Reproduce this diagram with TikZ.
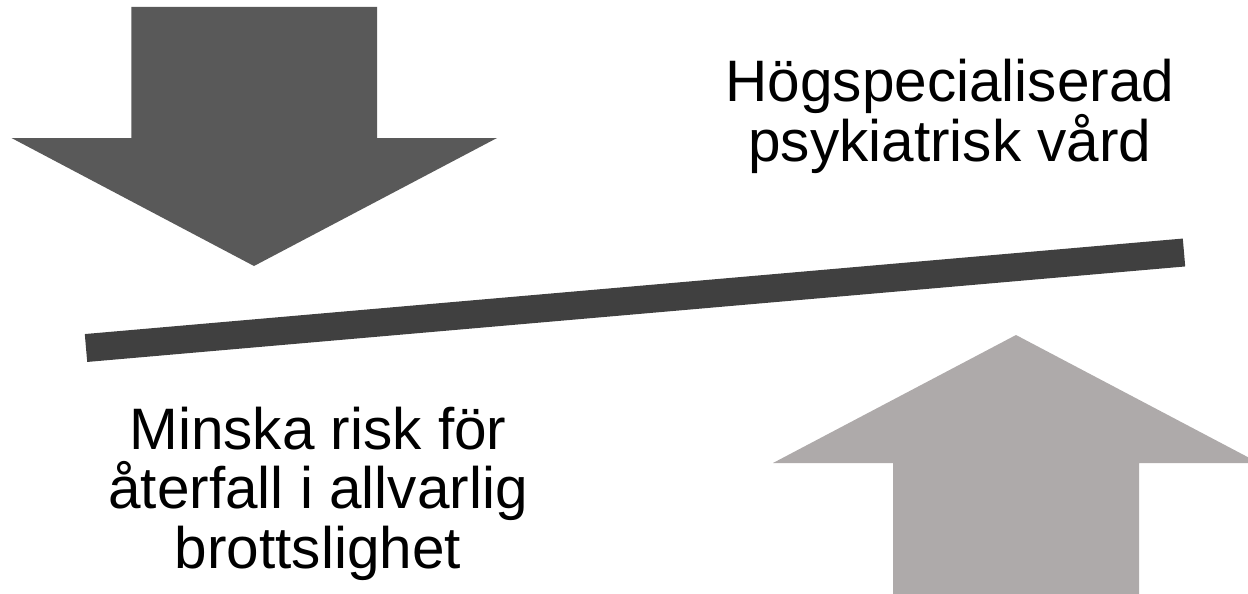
\documentclass[tikz,border=0pt]{standalone}
\usepackage{fontspec}
\setmainfont{Liberation Sans}
\definecolor{arrowdark}{HTML}{595959}
\definecolor{arrowlight}{HTML}{AEAAAA}
\definecolor{beamgray}{HTML}{404040}
\begin{document}
\begin{tikzpicture}[x=1pt,y=-1pt,
  bigarrow/.style={draw=none},
  label/.style={align=center,inner sep=0pt,text=black,
    font=\fontsize{58.5}{59.5}\selectfont},
  beam/.style={draw=beamgray,line width=28pt,line cap=butt}]
  \useasboundingbox (0,0) rectangle (1248,594);
  \clip (0,0) rectangle (1248,594);

  % block arrow pointing down
  \fill[bigarrow,arrowdark] (131.3,7) -- (377,7) -- (377,138) -- (497,138)
    -- (254,266) -- (11.5,138) -- (131.3,138) -- cycle;

  % block arrow pointing up
  \fill[bigarrow,arrowlight] (893,600) -- (893,463) -- (773,463)
    -- (1016,335) -- (1259,463) -- (1139,463) -- (1139,600) -- cycle;

  % tilted beam
  \coordinate (beamL) at (86,348);
  \coordinate (beamR) at (1184,252.5);
  \draw[beam] (beamL) -- (beamR);

  % labels (base anchor sits on the last line)
  \node[label,anchor=base] (care) at (950,161)
    {Högspecialiserad\\psykiatrisk vård};
  \node[label,anchor=base] (risk) at (318,568)
    {Minska risk för\\återfall i allvarlig\\brottslighet};
\end{tikzpicture}
\end{document}
